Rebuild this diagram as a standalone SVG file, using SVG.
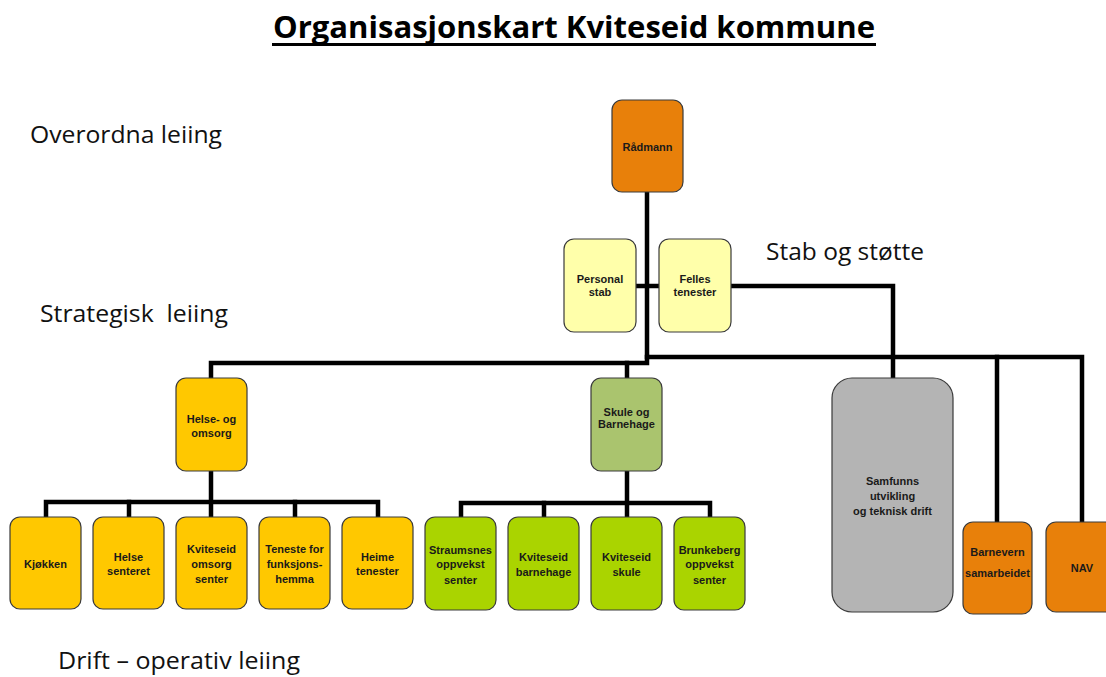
<svg xmlns="http://www.w3.org/2000/svg" width="1106" height="677" viewBox="0 0 1106 677">
<style>
.n{stroke:#3a3a3a;stroke-width:1.2}
.t{font-family:"Liberation Sans",Arial,sans-serif;font-weight:bold;font-size:11px;fill:#1a1a1a;text-anchor:middle}
.big{font-family:"Open Sans","Liberation Sans",sans-serif;font-size:23px;fill:#111;white-space:pre}
.c{stroke:#000;stroke-width:4.5;fill:none;stroke-linejoin:miter;stroke-linecap:square}
.or{fill:#E8800A}.ly{fill:#FFFFAA}.yl{fill:#FFC800}.lg{fill:#AAC46E}.gr{fill:#AAD400}.gy{fill:#B4B4B4}
</style>
<rect width="1106" height="677" fill="#fff"/>
<text x="574" y="38" font-family="'Open Sans','Liberation Sans',sans-serif" font-weight="bold" font-size="30" text-anchor="middle" textLength="602" lengthAdjust="spacingAndGlyphs" fill="#000">Organisasjonskart Kviteseid kommune</text>
<rect x="272" y="43" width="604" height="3" fill="#000"/>
<text class="big" x="30" y="143" textLength="192" lengthAdjust="spacingAndGlyphs">Overordna leiing</text>
<text class="big" x="40" y="322" textLength="188" lengthAdjust="spacingAndGlyphs" xml:space="preserve">Strategisk  leiing</text>
<text class="big" x="766" y="260" textLength="158" lengthAdjust="spacingAndGlyphs">Stab og støtte</text>
<text class="big" x="58" y="669" textLength="242" lengthAdjust="spacingAndGlyphs">Drift – operativ leiing</text>
<g id="connectors">
<path class="c" d="M647,192 V357 H1082 V522"/>
<path class="c" d="M647,357 V363 H211 V378"/>
<path class="c" d="M627,363 V378"/>
<path class="c" d="M636,286 H659"/>
<path class="c" d="M731,286 H893 V378"/>
<path class="c" d="M997,357 V522"/>
<path class="c" d="M211,471 V517"/>
<path class="c" d="M46,517 V502 H378 V517"/>
<path class="c" d="M129,502 V517"/>
<path class="c" d="M295,502 V517"/>
<path class="c" d="M627,471 V517"/>
<path class="c" d="M461,517 V503 H710 V517"/>
<path class="c" d="M544,503 V517"/>
</g>
<g id="radmann"><rect class="n or" x="612" y="100" width="71" height="92" rx="10"/><text class="t" x="647.5" y="151">Rådmann</text></g>
<g id="personal-stab"><rect class="n ly" x="564" y="239" width="72" height="93" rx="10"/><text class="t" x="600" y="283">Personal</text><text class="t" x="600" y="296">stab</text></g>
<g id="felles-tenester"><rect class="n ly" x="659" y="239" width="72" height="93" rx="10"/><text class="t" x="695" y="283">Felles</text><text class="t" x="695" y="296">tenester</text></g>
<g id="helse-omsorg"><rect class="n yl" x="176" y="378" width="71" height="93" rx="10"/><text class="t" x="211.5" y="423">Helse- og</text><text class="t" x="211.5" y="437">omsorg</text></g>
<g id="skule-barnehage"><rect class="n lg" x="591" y="378" width="71" height="93" rx="10"/><text class="t" x="626.5" y="416">Skule og</text><text class="t" x="626.5" y="428">Barnehage</text></g>
<g id="samfunn"><rect class="n gy" x="832" y="378" width="121" height="234" rx="20"/><text class="t" x="892.5" y="485">Samfunns</text><text class="t" x="892.5" y="500">utvikling</text><text class="t" x="892.5" y="515">og teknisk drift</text></g>
<g id="barnevern"><rect class="n or" x="963" y="522" width="69" height="92" rx="10"/><text class="t" x="997.5" y="556">Barnevern</text><text class="t" x="997.5" y="577">samarbeidet</text></g>
<g id="nav"><rect class="n or" x="1046" y="522" width="72" height="90" rx="10"/><text class="t" x="1082" y="572">NAV</text></g>
<g id="kjokken"><rect class="n yl" x="10" y="517" width="71" height="92" rx="10"/><text class="t" x="45.5" y="568">Kjøkken</text></g>
<g id="helse-senteret"><rect class="n yl" x="93" y="517" width="71" height="92" rx="10"/><text class="t" x="128.5" y="561">Helse</text><text class="t" x="128.5" y="575">senteret</text></g>
<g id="kviteseid-omsorg"><rect class="n yl" x="176" y="517" width="71" height="92" rx="10"/><text class="t" x="211.5" y="553">Kviteseid</text><text class="t" x="211.5" y="568">omsorg</text><text class="t" x="211.5" y="583">senter</text></g>
<g id="teneste"><rect class="n yl" x="259" y="517" width="71" height="92" rx="10"/><text class="t" x="294.5" y="553">Teneste for</text><text class="t" x="294.5" y="568">funksjons-</text><text class="t" x="294.5" y="583">hemma</text></g>
<g id="heime"><rect class="n yl" x="342" y="517" width="71" height="92" rx="10"/><text class="t" x="377.5" y="561">Heime</text><text class="t" x="377.5" y="575">tenester</text></g>
<g id="straumsnes"><rect class="n gr" x="425" y="517" width="71" height="93" rx="10"/><text class="t" x="460.5" y="554">Straumsnes</text><text class="t" x="460.5" y="568">oppvekst</text><text class="t" x="460.5" y="584">senter</text></g>
<g id="kviteseid-barnehage"><rect class="n gr" x="508" y="517" width="71" height="93" rx="10"/><text class="t" x="543.5" y="561">Kviteseid</text><text class="t" x="543.5" y="576">barnehage</text></g>
<g id="kviteseid-skule"><rect class="n gr" x="591" y="517" width="71" height="93" rx="10"/><text class="t" x="626.5" y="561">Kviteseid</text><text class="t" x="626.5" y="576">skule</text></g>
<g id="brunkeberg"><rect class="n gr" x="674" y="517" width="71" height="93" rx="10"/><text class="t" x="709.5" y="554">Brunkeberg</text><text class="t" x="709.5" y="568">oppvekst</text><text class="t" x="709.5" y="584">senter</text></g>
</svg>
